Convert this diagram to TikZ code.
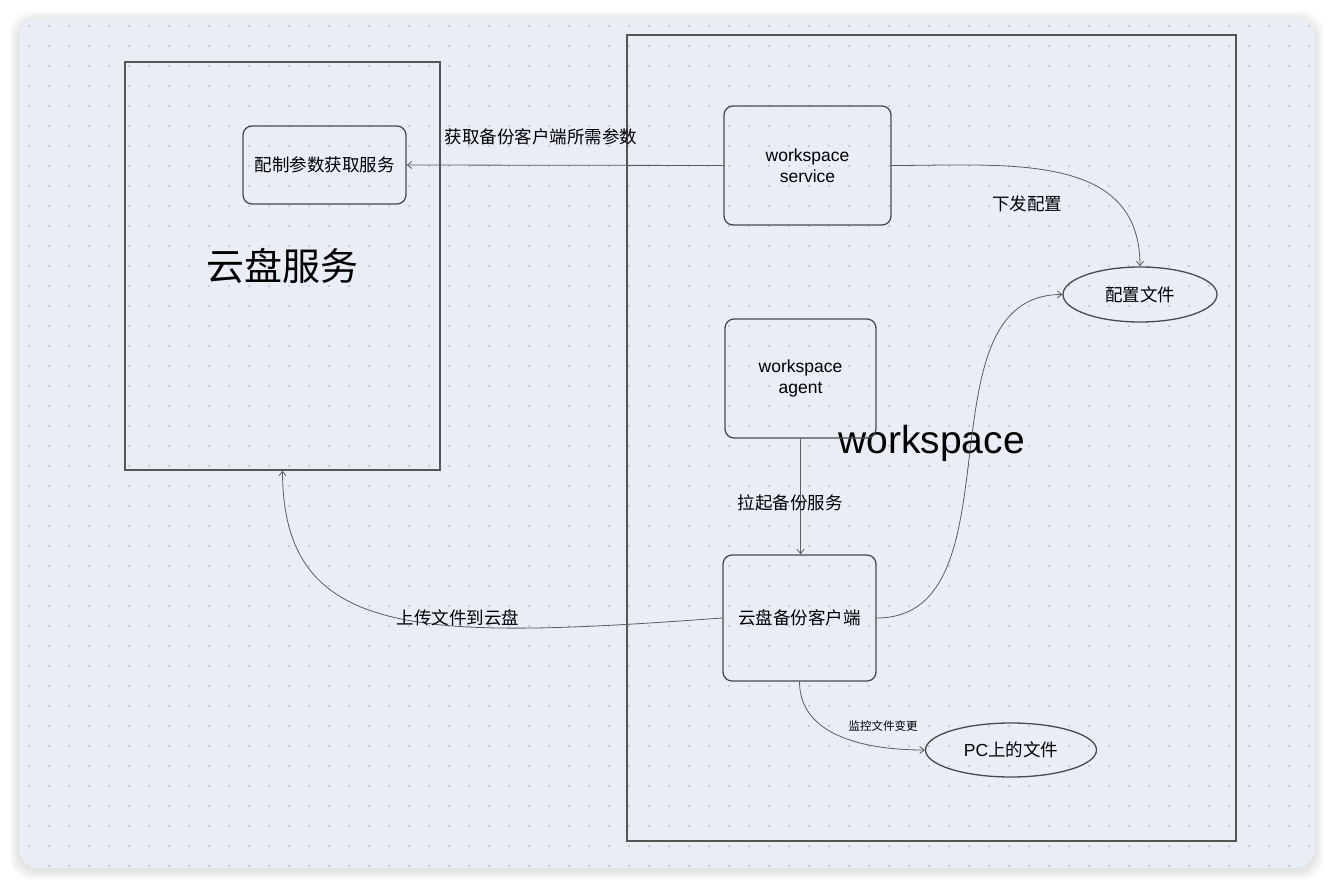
\documentclass[tikz,border=0pt]{standalone}
\usepackage{fontspec}
\setmainfont{Liberation Sans}
\newfontfamily\cjk{Noto Sans CJK SC}
\usetikzlibrary{arrows.meta,shapes.geometric,positioning}
\definecolor{sheetcol}{HTML}{E9EDF5}
\definecolor{dotcol}{HTML}{A2A6AE}
\definecolor{framecol}{HTML}{555555}
\definecolor{boxcol}{HTML}{4A4A4A}
\definecolor{linkcol}{HTML}{5C5C5C}
\tikzset{
  frame/.style={draw=framecol,line width=1.5pt,inner sep=0pt},
  box/.style={draw=boxcol,line width=1.3pt,rounded corners=9pt,inner sep=0pt,
    align=center,font=\fontsize{17.5}{20.5}\selectfont},
  oval/.style={ellipse,draw=boxcol,line width=1.3pt,inner sep=0pt,
    font=\fontsize{17.5}{20.5}\selectfont},
  lbl/.style={font=\cjk\fontsize{17.5}{20.5}\selectfont,inner sep=0pt},
  link/.style={draw=linkcol,line width=0.8pt,-{Straight Barb[length=4.5pt,width=7pt]}}
}

\begin{document}
\begin{tikzpicture}[x=1pt,y=-1pt]
\useasboundingbox (0,0) rectangle (1333,888);
\fill[white] (0,0) rectangle (1333,888);
% sheet with soft shadow
\foreach \i in {1,...,9}
  \fill[black,opacity=0.012,rounded corners=22pt] (19-\i,20-\i) rectangle (1315+\i,871+\i);
\fill[sheetcol,rounded corners=20pt] (19,18) rectangle (1315,868);
\begin{scope}
\clip[rounded corners=20pt] (19,18) rectangle (1315,868);
\foreach \x in {29,49,...,1309}
  \foreach \y in {26,46,...,866}
    \fill[dotcol] (\x,\y) circle (0.9pt);
\end{scope}

% containers
\node[frame,minimum width=315pt,minimum height=408pt,font=\cjk\fontsize{38}{44}\selectfont]
  (cloud) at (282.5,266) {云盘服务};
\node[frame,minimum width=609pt,minimum height=806pt,font=\fontsize{39}{46}\selectfont]
  (ws) at (931.5,438) {\raisebox{-15pt}[0pt][0pt]{workspace}};

% boxes
\node[box,minimum width=163pt,minimum height=78pt,font=\cjk\fontsize{17.5}{20.5}\selectfont]
  (param) at (324.5,165) {配制参数获取服务};
\node[box,minimum width=167pt,minimum height=119pt] (svc) at (807.5,165.5) {workspace\\service};
\node[box,minimum width=151pt,minimum height=119pt] (agent) at (800.5,378.5) {workspace\\agent};
\node[box,minimum width=153pt,minimum height=126pt,font=\cjk\fontsize{17.5}{20.5}\selectfont]
  (client) at (799.5,618) {云盘备份客户端};
\node[oval,minimum width=154pt,minimum height=55pt] (cfg) at (1140,294.5) {\cjk 配置文件};
\node[oval,minimum width=171pt,minimum height=54pt] (pc) at (1011,750) {PC{\cjk 上的文件}};

% links
\draw[link] (svc.west) -- (param.east);
\draw[link] (svc.east) to[out=0,in=90,looseness=1.1] (cfg.north);
\draw[link] (agent.south) -- (agent.south |- client.north);
\draw[link] (client.east) to[out=0,in=180] (cfg.west);
\draw[link] (client.west) .. controls (420,640) and (283,640) .. (cloud.south);
\draw[link] (client.south) to[out=-90,in=180] (pc.west);

% labels
\node[lbl] (lgetparam) at (541,137) {获取备份客户端所需参数};
\node[lbl] (lpush) at (1027,204) {下发配置};
\node[lbl] (lstart) at (790,503) {拉起备份服务};
\node[lbl] (lupload) at (458,618) {上传文件到云盘};
\node[lbl,font=\cjk\fontsize{11.5}{14}\selectfont] (lwatch) at (883,726) {监控文件变更};
\end{tikzpicture}
\end{document}
